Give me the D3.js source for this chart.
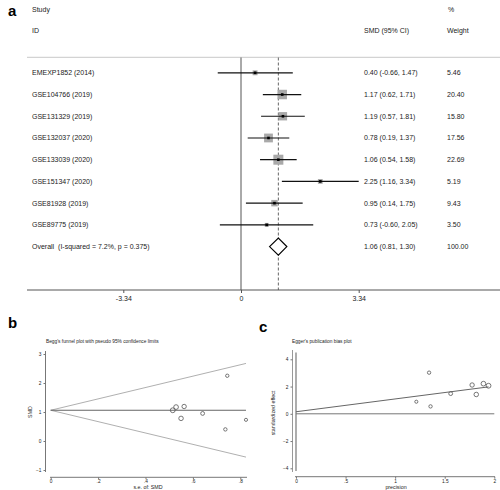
<!DOCTYPE html>
<html><head><meta charset="utf-8">
<script src="https://cdn.jsdelivr.net/npm/d3@7"></script>
<style>body{margin:0;background:#fff}svg{display:block;font-family:"Liberation Sans",Arial,sans-serif}</style>
</head><body>
<script>
// ---- data ----
const studies = ["EMEXP1852 (2014)","GSE104766 (2019)","GSE131329 (2019)","GSE132037 (2020)","GSE133039 (2020)","GSE151347 (2020)","GSE81928 (2019)","GSE89775 (2019)"];
const smd    = [0.40, 1.17, 1.19, 0.78, 1.06, 2.25, 0.95, 0.73];
const lower  = [-0.66, 0.62, 0.57, 0.19, 0.54, 1.16, 0.14, -0.60];
const upper  = [1.47, 1.71, 1.81, 1.37, 1.58, 3.34, 1.75, 2.05];
const weights= [5.46, 20.40, 15.80, 17.56, 22.69, 5.19, 9.43, 3.50];
const overallLabel = "Overall  (I-squared = 7.2%, p = 0.375)";
const overallEst = 1.06, overallLo = 0.81, overallHi = 1.30, overallWeight = 100.00;
const forestTicks = [-3.34, 0, 3.34];
// standard errors used in Begg / Egger plots
const se = [0.737, 0.529, 0.563, 0.550, 0.515, 0.745, 0.641, 0.824];
const beggXTicks = [0, 0.2, 0.4, 0.6, 0.8];
const beggYTicks = [-1, 0, 1, 2, 3];
const eggerXTicks = [0, 0.5, 1, 1.5, 2];
const eggerYTicks = [-4, -2, 0, 2, 4];
const eggerIntercept = 0.15, eggerSlope = 0.94;
const eggerCI = [-4.2, 4.5];

const fmt = d => d.toFixed(2);
const svg = d3.select("body").append("svg").attr("width",500).attr("height",490);

// ---- panel a: forest plot ----
const x = d3.scaleLinear().domain([-3.34,3.34]).range([123.3,358.7]);
const rows = studies.map((s,i)=>i);
const y = d3.scaleLinear().domain([0,8]).range([72.8,246.6]);
const fs = 7;

svg.append("text").attr("x",8).attr("y",16).attr("font-size",15).attr("font-weight","bold").text("a");
const hdr = svg.append("g").attr("font-size",fs).attr("fill","#222");
hdr.append("text").attr("x",32).attr("y",11.5).text("Study");
hdr.append("text").attr("x",32).attr("y",32.5).text("ID");
hdr.append("text").attr("x",364).attr("y",32.5).text("SMD (95% CI)");
hdr.append("text").attr("x",448).attr("y",11.5).text("%");
hdr.append("text").attr("x",447).attr("y",32.5).text("Weight");
svg.append("line").attr("x1",27).attr("x2",500).attr("y1",57.3).attr("y2",57.3).attr("stroke","#c8c8c8").attr("stroke-width",1);

// zero line and overall dashed line
svg.append("line").attr("x1",x(0)).attr("x2",x(0)).attr("y1",57.5).attr("y2",290).attr("stroke","#555").attr("stroke-width",1);
svg.append("line").attr("x1",x(overallEst)).attr("x2",x(overallEst)).attr("y1",57.5).attr("y2",290).attr("stroke","#666").attr("stroke-width",1).attr("stroke-dasharray","3,2");

const g = svg.append("g");
rows.forEach(i=>{
  const yy = y(i);
  const side = 2.1*Math.sqrt(weights[i]);
  g.append("rect").attr("x",x(smd[i])-side/2).attr("y",yy-side/2).attr("width",side).attr("height",side).attr("fill","#a9a9a9");
  g.append("line").attr("x1",x(lower[i])).attr("x2",x(upper[i])).attr("y1",yy).attr("y2",yy).attr("stroke","#111").attr("stroke-width",1.2);
  g.append("rect").attr("x",x(smd[i])-1.3).attr("y",yy-1.3).attr("width",2.6).attr("height",2.6).attr("fill","#000");
  g.append("text").attr("x",32).attr("y",yy+2.5).attr("font-size",fs).attr("fill","#222").text(studies[i]);
  g.append("text").attr("x",364).attr("y",yy+2.5).attr("font-size",fs).attr("fill","#222").text(`${fmt(smd[i])} (${fmt(lower[i])}, ${fmt(upper[i])})`);
  g.append("text").attr("x",447).attr("y",yy+2.5).attr("font-size",fs).attr("fill","#222").text(fmt(weights[i]));
});
const yo = y(8);
g.append("path").attr("d",`M${x(overallLo)},${yo}L${x(overallEst)},${yo-8.5}L${x(overallHi)},${yo}L${x(overallEst)},${yo+8.5}Z`).attr("fill","#fff").attr("stroke","#000").attr("stroke-width",1.2);
g.append("text").attr("x",32).attr("y",yo+2.5).attr("font-size",fs).attr("fill","#222").style("white-space","pre").text(overallLabel);
g.append("text").attr("x",364).attr("y",yo+2.5).attr("font-size",fs).attr("fill","#222").text(`${fmt(overallEst)} (${fmt(overallLo)}, ${fmt(overallHi)})`);
g.append("text").attr("x",447).attr("y",yo+2.5).attr("font-size",fs).attr("fill","#222").text(fmt(overallWeight));

// axis
svg.append("line").attr("x1",27).attr("x2",500).attr("y1",290).attr("y2",290).attr("stroke","#555").attr("stroke-width",1);
const ax = svg.append("g").attr("transform","translate(0,290)")
  .call(d3.axisBottom(x).tickValues(forestTicks).tickFormat(d=>d===0?"0":fmt(d)).tickSize(3).tickPadding(3));
ax.select(".domain").remove();
ax.selectAll("line").attr("stroke","#555");
ax.selectAll("text").attr("font-size",fs).attr("fill","#222").attr("font-family","Liberation Sans, Arial");

// ---- panel b: Begg's funnel ----
svg.append("text").attr("x",8).attr("y",328).attr("font-size",15).attr("font-weight","bold").text("b");
const bx = d3.scaleLinear().domain([0,0.8]).range([50.7,240.3]);
const by = d3.scaleLinear().domain([-1,3]).range([470,354]);
const tfs = 4.8, lfs = 5.3;
svg.append("text").attr("x",46).attr("y",342.5).attr("font-size",tfs).attr("fill","#222").text("Begg's funnel plot with pseudo 95% confidence limits");
const seMax = d3.max(se);
const zc = 1.96;
svg.append("path").attr("d",`M${bx(0)},${by(overallEst)}L${bx(seMax)},${by(overallEst+zc*seMax)}`).attr("stroke","#b0b0b0").attr("stroke-width",1).attr("fill","none");
svg.append("path").attr("d",`M${bx(0)},${by(overallEst)}L${bx(seMax)},${by(overallEst-zc*seMax)}`).attr("stroke","#b0b0b0").attr("stroke-width",1).attr("fill","none");
svg.append("line").attr("x1",bx(0)).attr("x2",bx(seMax)).attr("y1",by(overallEst)).attr("y2",by(overallEst)).attr("stroke","#666").attr("stroke-width",1);
const rad = w => 1 + 0.3*Math.sqrt(w);
rows.forEach(i=>{
  svg.append("circle").attr("cx",bx(se[i])).attr("cy",by(smd[i])).attr("r",rad(weights[i])).attr("fill","none").attr("stroke","#555").attr("stroke-width",0.8);
});
// axes
const byAx = svg.append("g").attr("transform","translate(45.5,0)").call(d3.axisLeft(by).tickValues(beggYTicks).tickFormat(d3.format("d")).tickSize(2).tickPadding(2));
byAx.select(".domain").attr("d",`M0,351V472`).attr("stroke","#777");
byAx.selectAll("line").attr("stroke","#777");
byAx.selectAll("text").attr("font-size",tfs).attr("fill","#222").attr("font-family","Liberation Sans, Arial");
const bxAx = svg.append("g").attr("transform","translate(0,477.3)").call(d3.axisBottom(bx).tickValues(beggXTicks).tickFormat(d=>d===0?"0":d3.format(".1f")(d).replace(/^0/,"")).tickSize(2).tickPadding(0.5));
bxAx.select(".domain").attr("d",`M50,0H247`).attr("stroke","#777");
bxAx.selectAll("line").attr("stroke","#777");
bxAx.selectAll("text").attr("font-size",tfs).attr("fill","#222").attr("font-family","Liberation Sans, Arial");
svg.append("text").attr("x",148).attr("y",489).attr("text-anchor","middle").attr("font-size",lfs).attr("fill","#222").text("s.e. of: SMD");
svg.append("text").attr("transform","translate(31.5,412) rotate(-90)").attr("text-anchor","middle").attr("font-size",lfs).attr("fill","#222").text("SMD");

// ---- panel c: Egger's ----
svg.append("text").attr("x",259).attr("y",332).attr("font-size",15).attr("font-weight","bold").text("c");
const cx = d3.scaleLinear().domain([0,2]).range([296,494.3]);
const cy = d3.scaleLinear().domain([-4,4]).range([468.3,359.3]);
svg.append("text").attr("x",292).attr("y",342.5).attr("font-size",tfs).attr("fill","#222").text("Egger's publication bias plot");
svg.append("line").attr("x1",cx(0)).attr("x2",cx(0)).attr("y1",cy(eggerCI[1])).attr("y2",cy(eggerCI[0])).attr("stroke","#777").attr("stroke-width",1.2);
svg.append("line").attr("x1",cx(0)).attr("x2",cx(2)).attr("y1",cy(0)).attr("y2",cy(0)).attr("stroke","#777").attr("stroke-width",1);
const precMax = d3.max(se, s=>1/s);
svg.append("line").attr("x1",cx(0)).attr("x2",cx(precMax)).attr("y1",cy(eggerIntercept)).attr("y2",cy(eggerIntercept+eggerSlope*precMax)).attr("stroke","#666").attr("stroke-width",1);
rows.forEach(i=>{
  svg.append("circle").attr("cx",cx(1/se[i])).attr("cy",cy(smd[i]/se[i])).attr("r",rad(weights[i])).attr("fill","none").attr("stroke","#555").attr("stroke-width",0.8);
});
const cyAx = svg.append("g").attr("transform","translate(292.5,0)").call(d3.axisLeft(cy).tickValues(eggerYTicks).tickSize(2).tickPadding(2));
cyAx.select(".domain").attr("d",`M0,350V472`).attr("stroke","#999");
cyAx.selectAll("line").attr("stroke","#777");
cyAx.selectAll("text").attr("font-size",tfs).attr("fill","#222").attr("font-family","Liberation Sans, Arial");
const cxAx = svg.append("g").attr("transform","translate(0,476.7)").call(d3.axisBottom(cx).tickValues(eggerXTicks).tickFormat(d=>d===0?"0":String(d).replace(/^0/,"")).tickSize(2).tickPadding(0.5));
cxAx.select(".domain").attr("d",`M295,0H495`).attr("stroke","#777");
cxAx.selectAll("line").attr("stroke","#777");
cxAx.selectAll("text").attr("font-size",tfs).attr("fill","#222").attr("font-family","Liberation Sans, Arial");
svg.append("text").attr("x",396).attr("y",489).attr("text-anchor","middle").attr("font-size",lfs).attr("fill","#222").text("precision");
svg.append("text").attr("transform","translate(275,413) rotate(-90)").attr("text-anchor","middle").attr("font-size",lfs).attr("fill","#222").text("standardized effect");
</script>
</body></html>
